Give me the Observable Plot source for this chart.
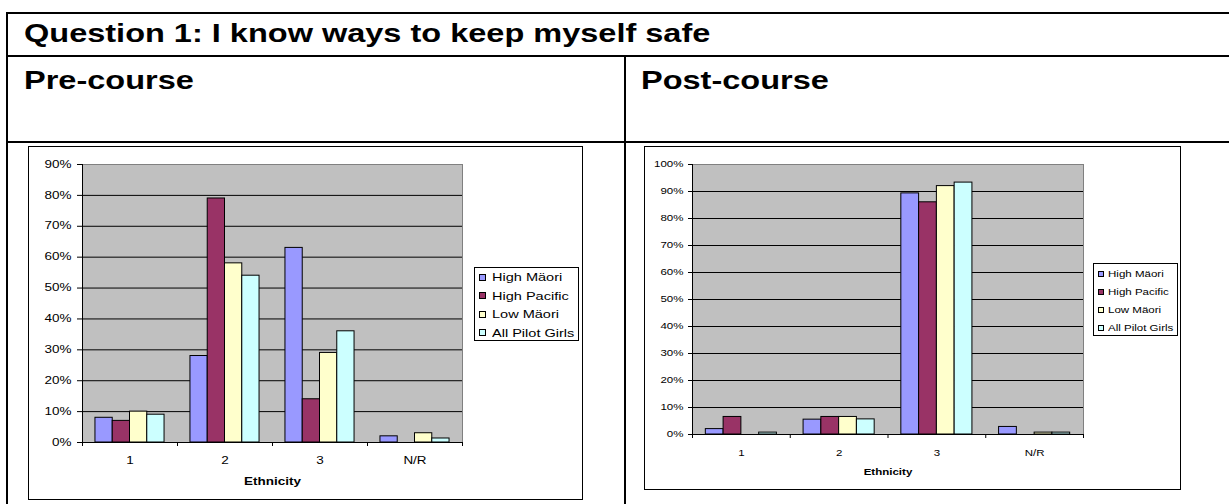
<!DOCTYPE html>
<html>
<head>
<meta charset="utf-8">
<script src="https://cdn.jsdelivr.net/npm/d3@7"></script>
<script src="https://cdn.jsdelivr.net/npm/@observablehq/plot@0.6"></script>
<style>
  html, body { margin: 0; padding: 0; background: #fff; }
  body { position: relative; width: 1229px; height: 504px; overflow: hidden;
         font-family: Arial, "Liberation Sans", sans-serif; color: #000; }
  .hline { position: absolute; background: #000; height: 2px; }
  .vline { position: absolute; background: #000; width: 2px; }
  .heading { position: absolute; font-weight: bold; font-size: 26px; line-height: 26px;
             white-space: nowrap; transform-origin: 0 50%; }
  .frame { position: absolute; border: 1px solid #000; box-sizing: border-box; }
  .legend { position: absolute; border: 1px solid #000; background: #fff; box-sizing: border-box; }
  .legend .row { position: relative; display: flex; align-items: center; white-space: nowrap; }
  .legend .sw { flex: none; border: 1px solid #000; box-sizing: border-box; }
  .legend .lbl { display: inline-block; transform-origin: 0 50%; }
  svg.chart { position: absolute; }
</style>
</head>
<body>
<script>
// ---------- data ----------
const titleText = "Question 1: I know ways to keep myself safe";
const preHeading = "Pre-course";
const postHeading = "Post-course";
const xLabel = "Ethnicity";

const categories = ["1", "2", "3", "N/R"];
const seriesNames = ["High Mäori", "High Pacific", "Low Mäori", "All Pilot Girls"];
const seriesColors = ["#9999ff", "#993366", "#ffffcc", "#ccffff"];

// Pre-course (percent)
const preHighMaori      = [8, 28, 63, 2];
const preHighPacific    = [7, 79, 14, 0];
const preLowMaori       = [10, 58, 29, 3];
const preAllPilotGirls  = [9, 54, 36, 1.3];

// Post-course (percent)
const postHighMaori     = [2, 5.5, 89.3, 2.8];
const postHighPacific   = [6.5, 6.5, 86, 0];
const postLowMaori      = [0, 6.5, 92, 0.7];
const postAllPilotGirls = [0.7, 5.6, 93.3, 0.7];

const preYTicks  = [0, 10, 20, 30, 40, 50, 60, 70, 80, 90];
const postYTicks = [0, 10, 20, 30, 40, 50, 60, 70, 80, 90, 100];

// ---------- helpers ----------
function toRows(seriesValues) {
  return seriesValues.flatMap((vals, si) =>
    vals.map((v, ci) => ({category: categories[ci], ci, series: seriesNames[si], si, value: v}))
  ).filter(d => d.value > 0);
}

function stretchText(svg, k) {
  svg.querySelectorAll("text").forEach(t => {
    const tr = t.getAttribute("transform") || "";
    const x = +(t.getAttribute("x") || 0);
    t.setAttribute("transform", `${tr} translate(${x},0) scale(${k},1) translate(${-x},0)`);
  });
}

function el(cls, style, text) {
  const d = document.createElement("div");
  d.className = cls;
  Object.assign(d.style, style);
  if (text != null) d.textContent = text;
  document.body.appendChild(d);
  return d;
}

function chart(o) {
  const nS = seriesNames.length;
  const gapWidth = 1.5;               // Excel-style gap width (150%)
  const w = 1 / (nS + gapWidth);
  const off = gapWidth * w / 2;
  const ymax = d3.max(o.yTicks);
  const svg = Plot.plot({
    width: o.width, height: o.height,
    marginLeft: o.ml, marginRight: o.mr, marginTop: o.mt, marginBottom: o.mb,
    style: {fontFamily: "Arial, 'Liberation Sans', sans-serif", fontSize: o.fontSize + "px",
            color: "#000", background: "transparent", overflow: "visible"},
    x: {domain: [0, categories.length]},
    y: {domain: [0, ymax]},
    color: {domain: seriesNames, range: seriesColors},
    marks: [
      Plot.frame({fill: "#c0c0c0", stroke: "#808080"}),
      Plot.ruleY(o.yTicks.filter(t => t > 0 && t < ymax), {stroke: "#000"}),
      Plot.rect(o.data, {
        x1: d => d.ci + off + d.si * w,
        x2: d => d.ci + off + (d.si + 1) * w,
        y1: 0, y2: "value",
        fill: "series", stroke: "#000", strokeWidth: 1
      }),
      Plot.ruleX([0], {stroke: "#000"}),
      Plot.ruleY([0], {stroke: "#000"}),
      Plot.axisY({ticks: o.yTicks, tickFormat: d => d + "%", tickSize: o.yTickSize,
                  tickPadding: o.yTickPad, label: null}),
      Plot.axisX({ticks: d3.range(categories.length + 1), tickSize: 4,
                  tickFormat: () => "", label: null}),
      Plot.axisX({ticks: categories.map((c, i) => i + 0.5), tickSize: 0,
                  tickPadding: o.xTickPad, tickFormat: d => categories[Math.floor(d)], label: null}),
      Plot.text([xLabel], {text: d => d, frameAnchor: "bottom", dy: o.xTitleDy, fontWeight: "bold"})
    ]
  });
  svg.classList.add("chart");
  svg.style.left = o.left + "px";
  svg.style.top = o.top + "px";
  stretchText(svg, o.k);
  document.body.appendChild(svg);
}

function legend(o) {
  const box = el("legend", {left: o.left + "px", top: o.top + "px", width: o.width + "px",
                            height: o.height + "px", paddingTop: o.padTop + "px"});
  seriesNames.forEach((name, i) => {
    const row = document.createElement("div");
    row.className = "row";
    row.style.height = o.rowH + "px";
    row.style.fontSize = o.fontSize + "px";
    const sw = document.createElement("span");
    sw.className = "sw";
    Object.assign(sw.style, {width: o.sw + "px", height: o.sw + "px", background: seriesColors[i],
                             marginLeft: o.swLeft + "px", marginRight: o.swGap + "px"});
    const lbl = document.createElement("span");
    lbl.className = "lbl";
    lbl.style.transform = `scaleX(${o.k})`;
    lbl.textContent = name;
    row.appendChild(sw);
    row.appendChild(lbl);
    box.appendChild(row);
  });
}

// ---------- table grid ----------
el("hline", {left: "6px", top: "12px", width: "1223px"});
el("vline", {left: "6px", top: "12px", height: "492px"});
el("hline", {left: "6px", top: "55px", width: "1223px"});
el("hline", {left: "6px", top: "141px", width: "1223px"});
el("vline", {left: "624px", top: "55px", height: "449px"});

const hk = 1.25;
el("heading", {left: "24px", top: "20px", transform: `scaleX(${hk})`}, titleText);
el("heading", {left: "24px", top: "67px", transform: `scaleX(${hk})`}, preHeading);
el("heading", {left: "641px", top: "67px", transform: `scaleX(${hk})`}, postHeading);

// ---------- chart frames ----------
el("frame", {left: "28px", top: "146px", width: "555px", height: "354px"});
el("frame", {left: "644px", top: "146px", width: "537px", height: "344px"});

// ---------- charts ----------
chart({
  data: toRows([preHighMaori, preHighPacific, preLowMaori, preAllPilotGirls]),
  yTicks: preYTicks, left: 28, top: 146, width: 554, height: 353,
  ml: 54, mr: 120, mt: 18, mb: 57,
  fontSize: 10, k: 1.35, yTickSize: 5, yTickPad: 6, xTickPad: 14, xTitleDy: 42
});
chart({
  data: toRows([postHighMaori, postHighPacific, postLowMaori, postAllPilotGirls]),
  yTicks: postYTicks, left: 644, top: 146, width: 536, height: 343,
  ml: 48, mr: 97, mt: 18, mb: 55,
  fontSize: 9, k: 1.28, yTickSize: 4, yTickPad: 5, xTickPad: 15, xTitleDy: 40
});

// ---------- legends ----------
legend({left: 474, top: 267, width: 105, height: 74, padTop: 0, rowH: 18.5,
        fontSize: 11, k: 1.32, sw: 7, swLeft: 4, swGap: 6});
legend({left: 1093, top: 263, width: 85, height: 73, padTop: 1, rowH: 18,
        fontSize: 9, k: 1.28, sw: 6, swLeft: 4, swGap: 4});
</script>
</body>
</html>
